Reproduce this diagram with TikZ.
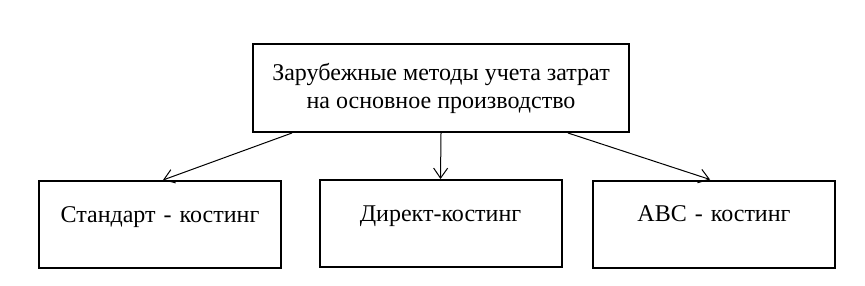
\documentclass[tikz,border=0pt]{standalone}
\usepackage{fontspec}
\setmainfont{Liberation Serif}
\usetikzlibrary{positioning, calc, arrows.meta}

\begin{document}
\begin{tikzpicture}[
    x=0.5pt, y=-0.5pt,
    method/.style={rectangle, draw, line width=1pt, align=center, minimum width=188pt, minimum height=44pt, font=\fontsize{12}{14}\selectfont},
    kind/.style={rectangle, draw, line width=1pt, align=center, inner sep=0pt, text width=121pt, text height=20.5pt, text depth=23pt, font=\fontsize{12}{14}\selectfont},
    arrow/.style={-{Straight Barb[length=5pt,width=7pt]}, line width=0.5pt}
]
\useasboundingbox (0,0) rectangle (865,285);
\node[method] (top) at (441,88) {Зарубежные методы учета затрат\\на основное производство};
\node[kind] (standard) at (160,224.5) {Стандарт - костинг};
\node[kind] (direct) at (440.5,223.5) {Директ-костинг};
\node[kind] (abc) at (714,224) {АВС - костинг};

\draw[arrow] ([xshift=20pt]top.south west) -- ([xshift=1.5pt]standard.north);
\draw[arrow] (top.south) -- (direct.north);
\draw[arrow] ([xshift=-31pt]top.south east) -- ([xshift=-2pt]abc.north);
\end{tikzpicture}
\end{document}
